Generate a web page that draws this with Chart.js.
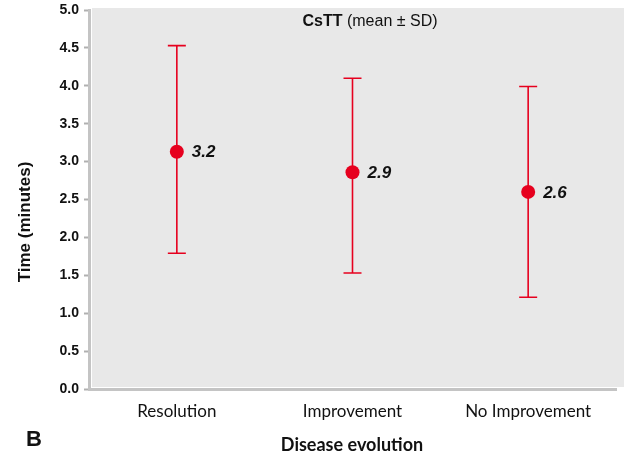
<!DOCTYPE html>
<html>
<head>
<meta charset="utf-8">
<script src="https://cdn.jsdelivr.net/npm/chart.js@4"></script>
<style>
  html, body { margin: 0; padding: 0; background: #fff; }
  #wrap { width: 624px; height: 461px; }
</style>
</head>
<body>
<div id="wrap"><canvas id="csttChart" width="624" height="461"></canvas></div>
<script>
// ── Data ─────────────────────────────────────────────────────────────────────
const categories = ['Resolution', 'Improvement', 'No Improvement'];
const means      = [3.13, 2.86, 2.60];
const meanLabels = ['3.2', '2.9', '2.6'];
const upper      = [4.53, 4.10, 3.99];
const lower      = [1.79, 1.53, 1.21];

const RED = '#e6001e';
const ARIAL = '"Liberation Sans", Arial, sans-serif';

// ── Plugins ──────────────────────────────────────────────────────────────────

// grey plot background
const plotBg = {
    id: 'plotBg',
    beforeDraw(chart) {
        const { ctx, chartArea: a } = chart;
        ctx.save();
        ctx.fillStyle = '#e8e8e8';
        ctx.fillRect(a.left + 3, a.top - 2, chart.width - a.left - 3, a.bottom - a.top);
        ctx.restore();
    }
};

// error bars + text overlays, drawn through the chart scales
const errorBars = {
    id: 'errorBars',
    beforeDatasetsDraw(chart) {
        const { ctx } = chart;
        const xs = chart.scales.x, ys = chart.scales.y;
        ctx.save();
        ctx.strokeStyle = RED;
        ctx.lineWidth = 1.6;
        categories.forEach((c, i) => {
            const x = xs.getPixelForValue(i);
            const yt = ys.getPixelForValue(upper[i]);
            const yb = ys.getPixelForValue(lower[i]);
            ctx.beginPath();
            ctx.moveTo(x, yt); ctx.lineTo(x, yb);
            ctx.moveTo(x - 9, yt); ctx.lineTo(x + 9, yt);
            ctx.moveTo(x - 9, yb); ctx.lineTo(x + 9, yb);
            ctx.stroke();
        });
        ctx.restore();
    },
    afterDatasetsDraw(chart) {
        const { ctx } = chart;
        const xs = chart.scales.x, ys = chart.scales.y;
        ctx.save();
        ctx.fillStyle = '#111';
        ctx.textBaseline = 'middle';
        ctx.textAlign = 'left';

        // value labels
        ctx.font = 'italic bold 17px ' + ARIAL;
        categories.forEach((c, i) => {
            ctx.fillText(meanLabels[i], xs.getPixelForValue(i) + 15, ys.getPixelForValue(means[i]) + 1);
        });

        // in-plot title
        const cx = 370, cy = 22;
        ctx.font = 'bold 16px ' + ARIAL;
        const w1 = ctx.measureText('CsTT ').width;
        ctx.font = '16px ' + ARIAL;
        const w2 = ctx.measureText('(mean ± SD)').width;
        const x0 = cx - (w1 + w2) / 2;
        ctx.font = 'bold 16px ' + ARIAL;
        ctx.fillText('CsTT ', x0, cy);
        ctx.font = '16px ' + ARIAL;
        ctx.fillText('(mean ± SD)', x0 + w1, cy);

        // panel letter
        ctx.font = 'bold 22px ' + ARIAL;
        ctx.fillText('B', 26, 440);

        // axis titles
        ctx.textAlign = 'center';
        ctx.font = 'bold 18px Lato, "Open Sans", sans-serif';
        ctx.fillText('Disease evolution', 352, 445);

        ctx.translate(25, 222);
        ctx.rotate(-Math.PI / 2);
        ctx.font = 'bold 17px ' + ARIAL;
        ctx.fillText('Time (minutes)', 0, 0);
        ctx.restore();
    }
};

// ── Chart ────────────────────────────────────────────────────────────────────

new Chart(document.getElementById('csttChart'), {
    type: 'line',
    data: {
        labels: categories,
        datasets: [{
            data: means,
            showLine: false,
            pointRadius: 7,
            pointHoverRadius: 7,
            pointBackgroundColor: RED,
            pointBorderColor: RED,
            pointBorderWidth: 0
        }]
    },
    plugins: [plotBg, errorBars],
    options: {
        responsive: false,
        animation: false,
        events: [],
        layout: { padding: { top: 10, right: 8, left: 0, bottom: 0 } },
        plugins: { legend: { display: false }, tooltip: { enabled: false } },
        scales: {
            x: {
                offset: true,
                grid: { display: false, drawTicks: false },
                border: { color: '#c4c4c4', width: 3 },
                ticks: {
                    color: '#111',
                    padding: 12,
                    font: { family: 'Lato, "Open Sans", sans-serif', size: 17 }
                },
                afterFit(s) { s.height = 72; }
            },
            y: {
                min: 0,
                max: 5,
                grid: { drawOnChartArea: false, tickLength: 5, color: '#b0b0b0', tickWidth: 2 },
                border: { color: '#c4c4c4', width: 3 },
                ticks: {
                    stepSize: 0.5,
                    color: '#111',
                    padding: 5,
                    callback: v => v.toFixed(1),
                    font: { family: ARIAL, size: 14, weight: 'bold' }
                },
                afterFit(s) { s.width = 89; s.paddingTop = 0; s.paddingBottom = 0; }
            }
        }
    }
});
</script>
</body>
</html>
